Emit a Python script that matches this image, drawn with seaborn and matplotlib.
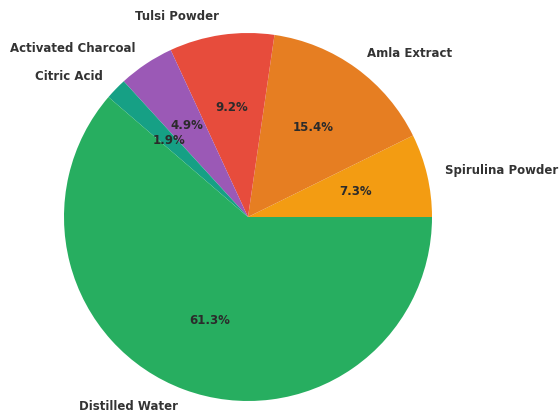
import matplotlib
matplotlib.use("Agg")
import matplotlib.pyplot as plt
import seaborn as sns

labels = ["Spirulina Powder", "Amla Extract", "Tulsi Powder", "Activated Charcoal", "Citric Acid", "Distilled Water"]
values = [7.3, 15.4, 9.2, 4.9, 1.9, 61.3]
colors = ["#f39c12", "#e67e22", "#e74c3c", "#9b59b6", "#16a085", "#27ae60"]

sns.set_theme(style="white")
plt.rcParams['font.family'] = ['DejaVu Sans']

fig = plt.figure(figsize=(5.59, 4.12), dpi=100)
ax = fig.add_axes([18/559, (412-447)/412, 460/559, 460/412])
wedges, texts, autotexts = ax.pie(
    values, labels=labels, colors=sns.color_palette(colors), autopct="%1.1f%%",
    startangle=0, counterclock=True, labeldistance=1.1, pctdistance=0.6,
    wedgeprops=dict(linewidth=0),
    textprops=dict(fontsize=8.5, fontweight="bold", color="#333333"))
for t in autotexts:
    t.set_color("#2b2b2b")
    t.set_fontsize(8.5)
ax.set_aspect("equal")
fig.savefig("out.png", dpi=100)
